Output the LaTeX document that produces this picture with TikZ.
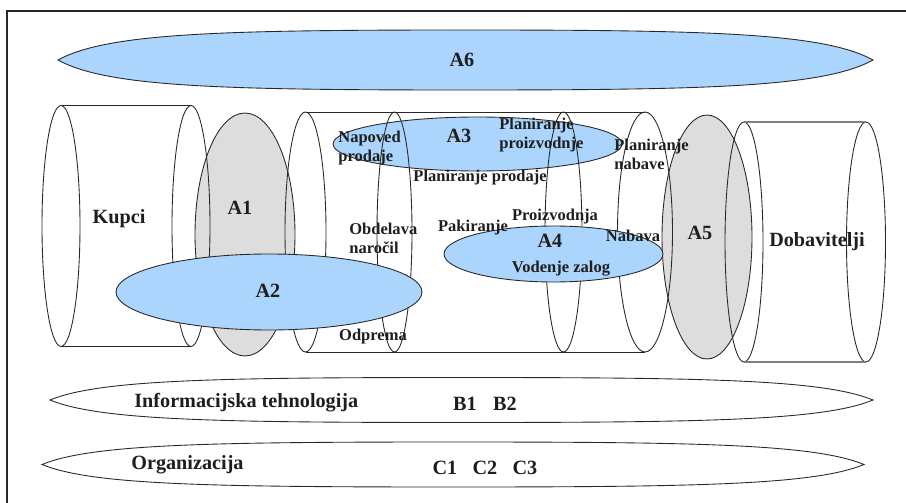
\documentclass[tikz,border=0pt]{standalone}
\usepackage{fontspec}
\setmainfont{Liberation Serif}
\usetikzlibrary{shapes.geometric}

\definecolor{bluefill}{RGB}{171,213,252}
\definecolor{grayfill}{RGB}{221,221,221}
\definecolor{linec}{RGB}{40,40,40}
\definecolor{textc}{RGB}{30,30,30}

% lens shaped band: [style] x-left, x-right, y-centre, half height
\newcommand{\lens}[5][]{%
  \draw[#1] (#2,#4)
    .. controls ({#2+0.06*(#3-#2)},{#4-0.9*#5}) and ({#2+0.2*(#3-#2)},{#4-#5}) .. ({(#2+#3)/2},{#4-#5})
    .. controls ({#3-0.2*(#3-#2)},{#4-#5}) and ({#3-0.06*(#3-#2)},{#4-0.9*#5}) .. (#3,#4)
    .. controls ({#3-0.06*(#3-#2)},{#4+0.9*#5}) and ({#3-0.2*(#3-#2)},{#4+#5}) .. ({(#2+#3)/2},{#4+#5})
    .. controls ({#2+0.2*(#3-#2)},{#4+#5}) and ({#2+0.06*(#3-#2)},{#4+0.9*#5}) .. cycle;}

\begin{document}
\begin{tikzpicture}[
  x=0.02cm, y=-0.02cm,
  ln/.style={draw=linec, line width=0.5pt},
  ring/.style={ellipse, ln, inner sep=0pt, outer sep=0pt},
  gblob/.style={ring, fill=grayfill},
  bblob/.style={ring, fill=bluefill},
  lbl/.style={font=\bfseries\fontsize{9.4}{10.8}\selectfont, text=textc, align=left, inner sep=0pt},
  big/.style={font=\bfseries\fontsize{11.5}{13}\selectfont, text=textc, inner sep=0pt}
]
\useasboundingbox (0,0) rectangle (906,503);
\draw[linec, line width=0.6pt] (7,503) -- (7,11) -- (906,11);

% top band
\lens[ln, fill=bluefill]{58}{873}{60}{30}

% shaded areas under the outlines
\node[gblob, minimum width=2.0cm, minimum height=4.86cm] (a1) at (245,234.5) {};
\node[gblob, minimum width=1.8cm, minimum height=4.88cm] (a5) at (707,237) {};
\node[bblob, minimum width=5.78cm, minimum height=1.08cm] (a3) at (477.5,144) {};

% customers
\node[ring, minimum width=0.76cm, minimum height=4.82cm] (kupL) at (61,226) {};
\node[ring, minimum width=0.76cm, minimum height=4.82cm] (kupR) at (191,226) {};
\draw[ln] (kupL.north) -- (kupR.north) (kupL.south) -- (kupR.south);

% company processes
\foreach \x/\w/\n in {305.5/0.82/p1, 394.5/0.70/p2, 563.5/0.74/p3, 645/1.10/p4}
  \node[ring, minimum width=\w cm, minimum height=4.8cm] (\n) at (\x,232) {};
\draw[ln] (p1.north) -- (p4.north) (p1.south) -- (p4.south);

% suppliers
\node[ring, minimum width=0.76cm, minimum height=4.8cm] (dobL) at (744,242) {};
\node[ring, minimum width=0.78cm, minimum height=4.8cm] (dobR) at (866,242) {};
\draw[draw=gray, line width=0.8pt] (dobL.north) -- (dobR.north) (dobL.south) -- (dobR.south);

\node[bblob, minimum width=6.12cm, minimum height=1.52cm] (a2) at (269,292) {};
\node[bblob, minimum width=4.38cm, minimum height=1.12cm] (a4) at (553.5,254) {};

% bottom bands
\lens[ln, fill=white]{50}{873}{400}{22.5}
\lens[ln, fill=white]{42}{864}{464.5}{22.5}

% labels
\node[big] (t6) at (462,60) {A6};
\node[big] (t1) at (240,208) {A1};
\node[big] (t2) at (268,291) {A2};
\node[big] (t3) at (459,136) {A3};
\node[big] (t4) at (550,241) {A4};
\node[big] (t5) at (700,233) {A5};
\node[big] (kupci) at (119,219) {Kupci};
\node[big] (dob) at (817,242) {Dobavitelji};

\node[lbl, anchor=west] (napoved) at (338,148) {Napoved\\prodaje};
\node[lbl, anchor=west] (planpr) at (499,135) {Planiranje\\proizvodnje};
\node[lbl, anchor=west] (plannab) at (614,154) {Planiranje\\nabave};
\node[lbl] (planprod) at (480,178) {Planiranje prodaje};
\node[lbl, anchor=west] (obdel) at (349,238) {Obdelava\\naročil};
\node[lbl] (pakir) at (473,228) {Pakiranje};
\node[lbl] (proiz) at (555,217) {Proizvodnja};
\node[lbl] (zaloge) at (561,269) {Vodenje zalog};
\node[lbl] (nabava) at (633,236) {Nabava};
\node[lbl] (odprema) at (373,337) {Odprema};

\node[big, anchor=west] (it) at (134,403) {Informacijska tehnologija};
\node[big] (b1) at (465,404) {B1};
\node[big] (b2) at (505,404) {B2};
\node[big, anchor=west] (org) at (131,465) {Organizacija};
\node[big] (c1) at (445,468) {C1};
\node[big] (c2) at (485,468) {C2};
\node[big] (c3) at (525,468) {C3};
\end{tikzpicture}
\end{document}
